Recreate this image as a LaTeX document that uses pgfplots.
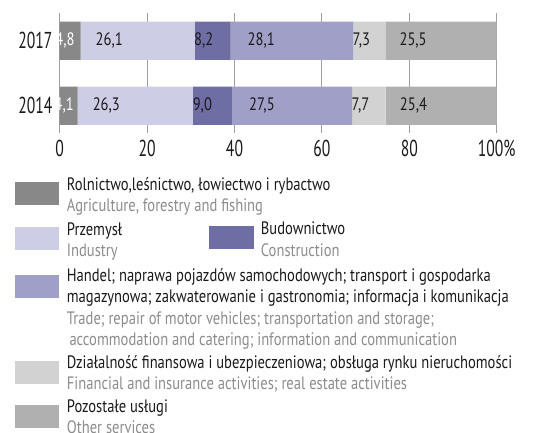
\documentclass[border=0pt]{standalone}
\usepackage{fontspec}
\setmainfont[FakeStretch=0.81]{PT Sans}
\newfontfamily\tickfont[FakeStretch=0.68]{PT Sans}
\usepackage{pgfplots}
\usepackage{pgfplotstable}
\pgfplotsset{compat=1.18}

\definecolor{cAgr}{HTML}{888888}
\definecolor{cInd}{HTML}{CDCDE6}
\definecolor{cCon}{HTML}{6E6EA5}
\definecolor{cTra}{HTML}{9F9FC8}
\definecolor{cFin}{HTML}{D2D2D2}
\definecolor{cOth}{HTML}{B0B0B0}
\definecolor{cGrid}{HTML}{A0A0A0}
\definecolor{cPl}{HTML}{1A1A1A}
\definecolor{cEn}{HTML}{8C8C8C}

% shares of employment (%), 0 = 2014, 1 = 2017
\pgfplotstableread{
year agr ind con tra fin oth
0 4.1 26.3 9.0 27.5 7.7 25.4
1 4.8 26.1 8.2 28.1 7.3 25.5
}\shares

\newcommand{\lf}{\fontsize{18}{18}\selectfont}
% legend text: x, baseline (px from top), colour, text
\newcommand{\lt}[4]{\node[anchor=base west, inner sep=0pt, text=#3, font=\lf] at (#1pt,-#2pt) {#4};}
% legend swatch: x0, y0, x1, y1, colour
\newcommand{\ls}[5]{\fill[#5] (#1pt,-#2pt) rectangle (#3pt,-#4pt);}

\begin{document}
\begin{tikzpicture}
\path[use as bounding box] (0,0) rectangle (546pt,-433pt);
\begin{axis}[
    at={(59.7pt,-12.7pt)}, anchor=north west,
    scale only axis, width=437pt, height=120pt,
    xbar stacked, bar width=38.3pt,
    xmin=0, xmax=100, ymin=-0.414, ymax=1.432,
    axis line style={draw=none}, major tick length=0pt,
    xmajorgrids, major grid style={cGrid, line width=1pt},
    xtick={0,20,40,60,80,100},
    xticklabels={0,20,40,60,80,100\%},
    ytick={0,1}, yticklabels={2014,2017},
    tick label style={font=\tickfont\fontsize{23}{23}\selectfont, text=cPl, inner sep=0pt},
    xticklabel style={yshift=-7pt},
    yticklabel style={xshift=-7pt},
    nodes near coords={\pgfmathprintnumber[fixed, fixed zerofill, precision=1, use comma, assume math mode=true]{\rawx}},
    nodes near coords align=center,
    nodes near coords style={font=\lf, text=cPl, inner sep=0pt},
    % the style is applied twice, so a quarter gives the middle of the segment
    every node near coord/.append style={shift={(axis direction cs:-\rawx/4,0)}},
]
\addplot[fill=cAgr, draw=none, nodes near coords style={text=white},
    visualization depends on=\thisrow{agr} \as \rawx] table[x=agr, y=year] {\shares};
\addplot[fill=cInd, draw=none,
    visualization depends on=\thisrow{ind} \as \rawx] table[x=ind, y=year] {\shares};
\addplot[fill=cCon, draw=none,
    visualization depends on=\thisrow{con} \as \rawx] table[x=con, y=year] {\shares};
\addplot[fill=cTra, draw=none,
    visualization depends on=\thisrow{tra} \as \rawx] table[x=tra, y=year] {\shares};
\addplot[fill=cFin, draw=none,
    visualization depends on=\thisrow{fin} \as \rawx] table[x=fin, y=year] {\shares};
\addplot[fill=cOth, draw=none,
    visualization depends on=\thisrow{oth} \as \rawx] table[x=oth, y=year] {\shares};
\end{axis}

\ls{15.3}{182.3}{59.3}{205}{cAgr}
\lt{66.7}{190.7}{cPl}{Rolnictwo,leśnictwo, łowiectwo i rybactwo}
\lt{66.7}{211.7}{cEn}{Agriculture, forestry and fishing}

\ls{15.3}{227.3}{59.3}{250}{cInd}
\lt{66.7}{235}{cPl}{Przemysł}
\lt{66.7}{256}{cEn}{Industry}

\ls{209.3}{226}{254}{249}{cCon}
\lt{260.7}{234}{cPl}{Budownictwo}
\lt{260.7}{256}{cEn}{Construction}

\ls{15.3}{275}{59.3}{297.7}{cTra}
\lt{66.7}{281}{cPl}{Handel; naprawa pojazdów samochodowych; transport i gospodarka}
\lt{66.7}{302.7}{cPl}{magazynowa; zakwaterowanie i gastronomia; informacja i komunikacja}
\lt{66.7}{324.3}{cEn}{Trade; repair of motor vehicles; transportation and storage;}
\lt{69.3}{345}{cEn}{accommodation and catering; information and communication}

\ls{15.3}{361}{59.3}{383.7}{cFin}
\lt{66.7}{368.3}{cPl}{Działalność finansowa i ubezpieczeniowa; obsługa rynku nieruchomości}
\lt{66.7}{389}{cEn}{Financial and insurance activities; real estate activities}

\ls{15.3}{405}{59.3}{427.7}{cOth}
\lt{66.7}{412.3}{cPl}{Pozostałe usługi}
\lt{66.7}{433.3}{cEn}{Other services}
\end{tikzpicture}
\end{document}
